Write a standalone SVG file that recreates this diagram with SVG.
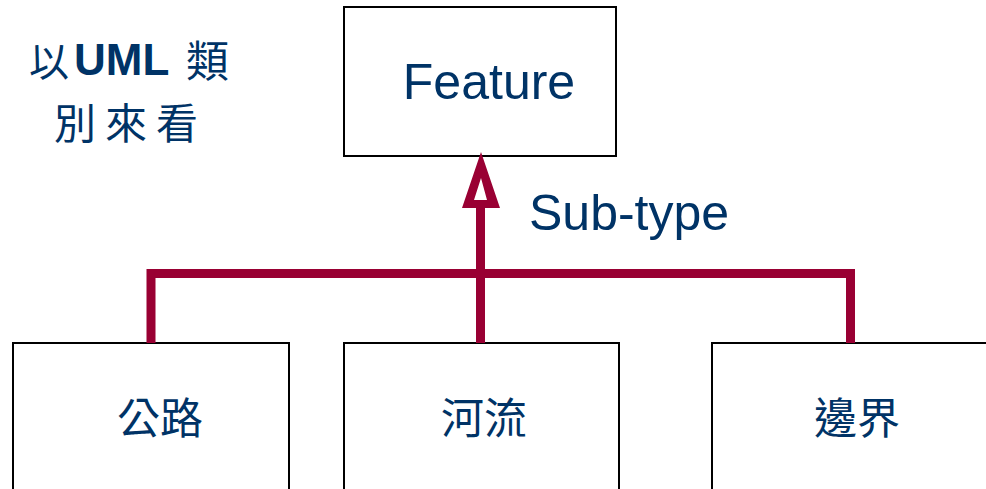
<svg xmlns="http://www.w3.org/2000/svg" width="986" height="489" viewBox="0 0 986 489">
<style>
.box{fill:#fff;stroke:#000;stroke-width:2}
.lbl{fill:#003366;font-family:"Noto Sans CJK TC","Noto Sans CJK SC",sans-serif;font-size:43px;text-anchor:middle}
.lat{fill:#003366;font-family:"Liberation Sans",Arial,sans-serif}
.cjk{fill:#003366;font-family:"Noto Sans CJK TC","Noto Sans CJK SC",sans-serif}
.conn{fill:none;stroke:#990033;stroke-width:9;stroke-linejoin:miter}
</style>
<rect width="986" height="489" fill="#fff"/>
<g id="title">
<text class="cjk" x="29" y="76" font-size="40">以</text>
<text class="lat" x="74" y="75" font-weight="bold" font-size="44">UML</text>
<text class="cjk" x="186" y="77" font-size="43">類</text>
<text class="cjk" x="54" y="139" font-size="42" letter-spacing="9">別來看</text>
</g>
<g id="feature">
<rect class="box" x="344" y="7" width="272" height="149"/>
<text class="lat" x="489" y="99" font-size="50" text-anchor="middle">Feature</text>
</g>
<g id="road">
<rect class="box" x="13" y="343" width="276" height="160"/>
<text class="lbl" x="160" y="434">公路</text>
</g>
<g id="river">
<rect class="box" x="344" y="343" width="275" height="160"/>
<text class="lbl" x="484" y="434">河流</text>
</g>
<g id="boundary">
<rect class="box" x="712" y="343" width="290" height="160"/>
<text class="lbl" x="857" y="434">邊界</text>
</g>
<g id="connectors">
<path class="conn" d="M151,343 V273.5 H850.5 V343"/>
<path class="conn" d="M480.5,343 V206"/>
<path d="M481,152 L462,208 L500,208 Z M481,178 L474,200 L487,200 Z" fill="#990033" fill-rule="evenodd"/>
<text class="lat" x="529" y="230" font-size="50">Sub-type</text>
</g>
</svg>
